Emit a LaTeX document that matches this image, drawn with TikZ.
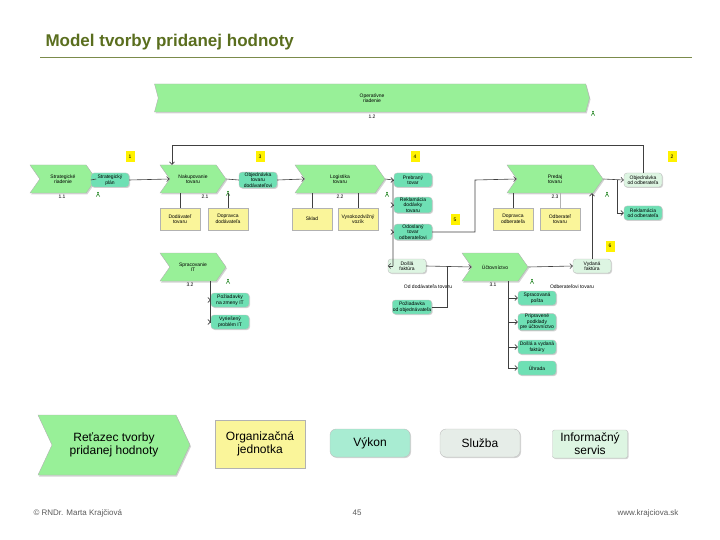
\documentclass[tikz,border=0pt]{standalone}
\usepackage{fontspec}
\setmainfont{Liberation Sans}
\usetikzlibrary{shapes.symbols,shadows,arrows.meta}
\definecolor{chev}{HTML}{98F098}
\definecolor{evt}{HTML}{6EE0B4}
\definecolor{evl}{HTML}{DDF5E2}
\definecolor{org}{HTML}{FAF59A}
\definecolor{titleg}{HTML}{5A6E1E}
\tikzset{
  chevron/.style={signal, signal to=east, signal from=west, signal pointer angle=110, draw=gray!60, fill=chev, drop shadow={opacity=.35,shadow xshift=1pt,shadow yshift=-1.5pt}, font=\fontsize{5}{5.5}\selectfont, align=center, inner sep=1pt},
  event/.style={rounded corners=3pt, draw=gray!50, fill=evt, minimum width=38pt, minimum height=14pt, font=\fontsize{5}{5.5}\selectfont, align=center, inner sep=0.5pt, drop shadow={opacity=.35,shadow xshift=1pt,shadow yshift=-1pt}},
  lightevent/.style={event, fill=evl},
  orgunit/.style={draw=gray!60, fill=org, minimum width=40pt, minimum height=22pt, font=\fontsize{5}{5.5}\selectfont, align=center, inner sep=0.5pt, drop shadow={opacity=.35,shadow xshift=1pt,shadow yshift=-1pt}},
  docnote/.style={fill=yellow, minimum width=9pt, minimum height=11pt, inner sep=0pt, font=\fontsize{5}{5}\selectfont},
  flow/.style={draw=black!75, line width=0.6pt, -{Straight Barb[length=2.5pt]}},
  link/.style={draw=black!75, line width=0.6pt},
  num/.style={font=\fontsize{5}{5}\selectfont},
  pics/person/.style={code={\fill[green!45!black] (0,-2.2) circle (0.9pt); \draw[green!45!black, line width=0.5pt] (-1.8,1.6)--(0,-1.2)--(1.8,1.6);}}
}
\begin{document}
\begin{tikzpicture}[x=1pt,y=-1pt]
\useasboundingbox (0,0) rectangle (720,540);

% title
\node[anchor=west, text=titleg, font=\bfseries\fontsize{17}{19}\selectfont, drop shadow={opacity=0}] (title) at (42,42) {Model tvorby pridanej hodnoty};
\draw[titleg!80, line width=1pt] (40,58) -- (692,58);

% top chevron
\node[chevron, minimum width=435pt, minimum height=28pt, signal pointer angle=150] (oper) at (372,98) {Operatívne\\riadenie};
\node[num] at (372,117) {1.2};

% chevrons
\node[chevron, minimum width=66pt, minimum height=28pt] (strat) at (63,179) {Strategické\\riadenie};
\node[chevron, minimum width=66pt, minimum height=28pt] (nakup) at (193,179) {Nakupovanie\\tovaru};
\node[chevron, minimum width=90pt, minimum height=28pt] (logist) at (340,179) {Logistika\\tovaru};
\node[chevron, minimum width=96pt, minimum height=28pt] (predaj) at (555,179) {Predaj\\tovaru};
\node[chevron, minimum width=66pt, minimum height=28pt] (spracIT) at (193,267) {Spracovanie\\IT};
\node[chevron, minimum width=66pt, minimum height=28pt] (uctov) at (495,267) {Účtovníctvo};
\node[num] at (62,197) {1.1};
\node[num] at (205,197) {2.1};
\node[num] at (340,197) {2.2};
\node[num] at (555,197) {2.3};
\node[num] at (190,285) {3.2};
\node[num] at (493,285) {3.1};

% events
\node[event] (plan) at (110,180) {Strategický\\plán};
\node[event] (objdod) at (258,180) {Objednávka\\tovaru\\dodávateľovi};
\node[event] (prebr) at (413,180) {Prebraný\\tovar};
\node[event] (reklam) at (413,205) {Reklamácia\\dodávky\\tovaru};
\node[event] (odosl) at (413,232) {Odoslaný\\tovar\\odberateľovi};
\node[lightevent] (doslaf) at (407,266) {Došlá\\faktúra};
\node[lightevent] (objodb) at (643,180) {Objednávka\\od odberateľa};
\node[event] (reklodb) at (643,213) {Reklamácia\\od odberateľa};
\node[lightevent] (vydf) at (592,266) {Vydaná\\faktúra};
\node[event] (zmenyIT) at (230,300) {Požiadavky\\na zmeny IT};
\node[event] (problIT) at (230,322) {Vyriešený\\problém IT};
\node[event] (poziad) at (412,307) {Požiadavka\\od objednávateľa};
\node[event] (posta) at (537,298) {Spracovaná\\pošta};
\node[event] (podkl) at (537,322) {Pripravené\\podklady\\pre účtovníctvo};
\node[event] (faktury) at (537,347) {Došlá a vydaná\\faktúry};
\node[event] (uhrada) at (537,368) {Úhrada};

% org units
\node[orgunit] (dodav) at (180,219) {Dodávateľ\\tovaru};
\node[orgunit] (doprdod) at (228,219) {Dopravca\\dodávateľa};
\node[orgunit] (sklad) at (312,219) {Sklad};
\node[orgunit] (vozik) at (358,219) {Vysokozdvižný\\vozík};
\node[orgunit] (doprodb) at (513,219) {Dopravca\\odberateľa};
\node[orgunit] (odbert) at (560,219) {Odberateľ\\tovaru};

% notes
\foreach \n/\x/\y in {1/130/157, 3/260/157, 4/415/157, 5/455/220, 2/672/157, 6/610/246}
  \node[docnote] (note\n) at (\x,\y) {\n};

% labels
\node[num] (lbdod) at (428,287) {Od dodávateľa tovaru};
\node[num] (lbodb) at (572,287) {Odberateľovi tovaru};

% persons
\foreach \x/\y in {98/195, 228/194, 387/195, 607/195, 593/114, 228/282, 532/282}
  \pic at (\x,\y) {person};

% connectors
\draw[link] (strat.east) -- (plan.west);
\draw[flow] (plan.east) -- (nakup.west);
\draw[link] (nakup.east) -- (objdod.west);
\draw[flow] (objdod.east) -- (logist.west);
\coordinate (br1) at (393,180);
\draw[link] (logist.east) -- (br1) -- (br1 |- doslaf);
\draw[flow] (br1) -- (prebr.west);
\draw[flow] (br1 |- reklam) -- (reklam.west);
\draw[flow] (br1 |- odosl) -- (odosl.west);
\draw[flow] (br1 |- doslaf) -- (doslaf.west);
\draw[flow] (odosl.east) -- (475,232) -- (475,180) -- (predaj.west);
\draw[flow] (doslaf.east) -- (uctov.west);
\draw[link] (poziad.east) -- (447,307) -- (447,266);
\draw[flow] (uctov.east) -- (vydf.west);
\draw[flow] (vydf.north) -- (vydf.north |- predaj.south);
\coordinate (br2) at (617,180);
\draw[flow] (predaj.east) -- (objodb.west);
\draw[flow] (br2) -- (617,213) -- (reklodb.west);
\draw[flow] (objodb.north) -- (643,145) -- (172,145) -- (nakup.north -| 172,0);
\draw[link] (dodav.north) -- (dodav.north |- nakup.south);
\draw[link] (doprdod.north) -- (doprdod.north |- nakup.south);
\draw[link] (sklad.north) -- (sklad.north |- logist.south);
\draw[link] (vozik.north) -- (vozik.north |- logist.south);
\draw[link] (doprodb.north) -- (doprodb.north |- predaj.south);
\draw[link, gray!60] (odbert.north) -- (odbert.north |- predaj.south);
\coordinate (br3) at (210,281);
\draw[link] (br3) -- (210,322);
\draw[flow] (210,300) -- (zmenyIT.west);
\draw[flow] (210,322) -- (problIT.west);
\coordinate (br4) at (508,281);
\draw[link] (br4) -- (508,368);
\foreach \e in {posta,podkl,faktury,uhrada}
  \draw[flow] (\e.west -| br4) -- (\e.west);

% legend
\node[chevron, minimum width=152pt, minimum height=60pt, signal pointer angle=130, font=\fontsize{12}{13}\selectfont] (lgchev) at (114,445) {Reťazec tvorby\\pridanej hodnoty};
\node[orgunit, minimum width=90pt, minimum height=48pt, font=\fontsize{12}{13}\selectfont] (lgorg) at (260,444) {Organizačná\\jednotka};
\node[event, fill=evt!60, minimum width=80pt, minimum height=28pt, rounded corners=6pt, font=\fontsize{12}{13}\selectfont] (lgvyk) at (370,443) {Výkon};
\node[event, fill=evl!70!gray!40, minimum width=80pt, minimum height=28pt, rounded corners=6pt, font=\fontsize{12}{13}\selectfont] (lgsluz) at (480,443) {Služba};
\node[event, fill=evl, minimum width=75pt, minimum height=28pt, rounded corners=2pt, font=\fontsize{12}{13}\selectfont] (lginf) at (590,444) {Informačný\\servis};

% footer
\node[anchor=west, font=\fontsize{8}{9}\selectfont, text=gray!70!black] (foot1) at (30,513) {© RNDr. Marta Krajčiová};
\node[font=\fontsize{8}{9}\selectfont, text=gray!70!black] (foot2) at (357,513) {45};
\node[anchor=east, font=\fontsize{8}{9}\selectfont, text=gray!70!black] (foot3) at (682,513) {www.krajciova.sk};
\end{tikzpicture}
\end{document}
